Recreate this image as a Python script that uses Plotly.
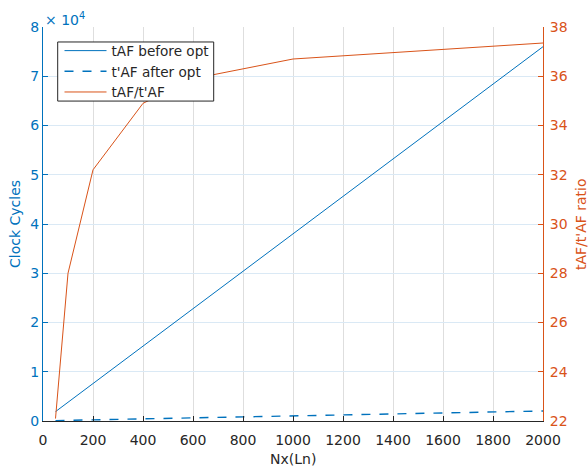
import plotly.graph_objects as go

# Data
nx = [50, 100, 200, 400, 600, 800, 1000, 2000]
taf_before = [1900, 3800, 7600, 15200, 22800, 30400, 38000, 76000]
taf_after = [86, 136, 236, 436, 635, 837, 1035, 2035]
ratio = [22.1, 28.0, 32.2, 34.9, 35.9, 36.3, 36.7, 37.35]

x_ticks = [0, 200, 400, 600, 800, 1000, 1200, 1400, 1600, 1800, 2000]
y_ticks = [0, 10000, 20000, 30000, 40000, 50000, 60000, 70000, 80000]
y_ticklabels = ["0", "1", "2", "3", "4", "5", "6", "7", "8"]
y2_ticks = [22, 24, 26, 28, 30, 32, 34, 36, 38]

BLUE = "#0072BD"
ORANGE = "#D95319"
DARK = "#262626"
FONT = "DejaVu Sans"

fig = go.Figure()
fig.add_trace(go.Scatter(x=nx, y=taf_before, mode="lines", name="tAF before opt",
                         line=dict(color=BLUE, width=1)))
fig.add_trace(go.Scatter(x=nx, y=taf_after, mode="lines", name="t'AF after opt",
                         line=dict(color=BLUE, width=1.4, dash="dash")))
fig.add_trace(go.Scatter(x=nx, y=ratio, mode="lines", name="tAF/t'AF",
                         line=dict(color=ORANGE, width=1), yaxis="y2"))

fig.update_layout(
    width=588, height=469,
    margin=dict(l=43, r=45, t=27, b=48, autoexpand=False),
    paper_bgcolor="white", plot_bgcolor="white",
    font=dict(family=FONT, size=14, color=DARK),
    showlegend=True,
    legend=dict(x=0.033, y=0.979, xanchor="left", yanchor="top",
                bgcolor="rgba(0,0,0,0)", borderwidth=0,
                font=dict(family=FONT, size=13.6, color=DARK),
                tracegroupgap=0, itemwidth=42),
    shapes=[
        dict(type="rect", xref="paper", yref="paper",
             x0=0.0294, x1=0.3414, y0=0.812, y1=0.962, layer="above",
             fillcolor="white", line=dict(color=DARK, width=1)),
    ],
    xaxis=dict(range=[0, 2000], tickvals=x_ticks, ticks="inside", ticklen=5,
               tickcolor=DARK, showline=True, linecolor=DARK, linewidth=1,
               showgrid=True, gridcolor="#dedede", gridwidth=1, zeroline=False,
               automargin=False, ticklabelstandoff=6,
               tickfont=dict(family=FONT, size=14, color=DARK)),
    yaxis=dict(range=[0, 80000], tickvals=y_ticks, ticktext=y_ticklabels,
               ticks="inside", ticklen=5, tickcolor=BLUE, showline=True,
               linecolor=BLUE, linewidth=1, showgrid=True, gridcolor="#dae9f5",
               gridwidth=1, zeroline=False, automargin=False,
               tickfont=dict(family=FONT, size=14, color=BLUE)),
    yaxis2=dict(range=[22, 38], tickvals=y2_ticks, overlaying="y", side="right",
                ticks="inside", ticklen=5, tickcolor=ORANGE, showline=True,
                linecolor=ORANGE, linewidth=1, showgrid=False, zeroline=False,
                automargin=False, ticklabelstandoff=3,
                tickfont=dict(family=FONT, size=14, color=ORANGE)),
    annotations=[
        dict(text="× 10<sup>4</sup>", xref="paper", yref="paper", x=0.0, y=1.0,
             xanchor="left", yanchor="bottom", yshift=-3, showarrow=False,
             font=dict(family=FONT, size=14, color=BLUE)),
        dict(text="Clock Cycles", xref="paper", yref="paper", x=0, y=0.5,
             xshift=-28, xanchor="center", yanchor="middle", textangle=-90,
             showarrow=False, font=dict(family=FONT, size=14, color=BLUE)),
        dict(text="tAF/t'AF ratio", xref="paper", yref="paper", x=1, y=0.5,
             xshift=38, xanchor="center", yanchor="middle", textangle=-90,
             showarrow=False, font=dict(family=FONT, size=14, color=ORANGE)),
        dict(text="Nx(Ln)", xref="paper", yref="paper", x=0.5, y=0,
             yshift=-38, xanchor="center", yanchor="middle",
             showarrow=False, font=dict(family=FONT, size=14, color=DARK)),
    ],
)

fig.write_html(
    "out.html",
    config={"displayModeBar": False},
    post_script="document.body.style.margin='0';document.body.style.padding='0';",
)
